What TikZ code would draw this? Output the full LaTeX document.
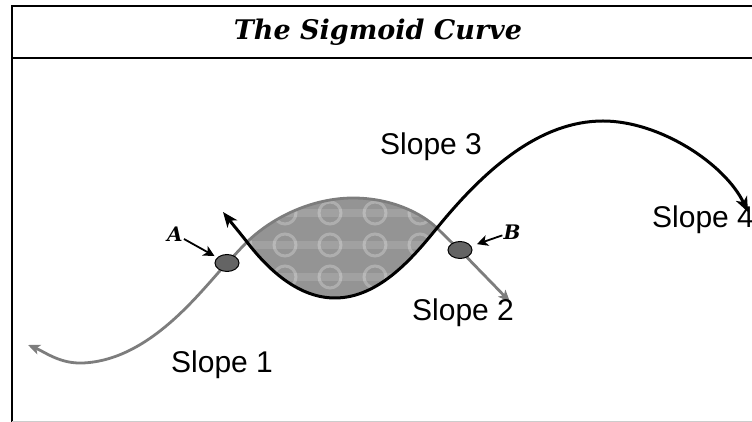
\documentclass[tikz,border=0pt]{standalone}
\usepackage{fontspec}
\usetikzlibrary{arrows.meta,shapes.geometric,positioning}
\newfontfamily\titlefont{DejaVu Serif}
\newfontfamily\slopefont{Liberation Sans}
\definecolor{curvegray}{RGB}{125,125,125}
\definecolor{shadegray}{RGB}{148,148,148}
\definecolor{dotgray}{RGB}{100,100,100}
\newcommand{\lenspath}{(left) .. controls (275,207) and (315,224) .. (top) .. controls (390,224) and (420,210) .. (right) .. controls (415,167) and (380,124) .. (bottom) .. controls (300,124) and (270,150) .. (left) -- cycle}

\begin{document}
\begin{tikzpicture}[x=1pt, y=1pt,
    slopelabel/.style={font=\slopefont\fontsize{30}{36}\selectfont, anchor=base west, inner sep=0pt},
    pointlabel/.style={font=\titlefont\bfseries\itshape\fontsize{20}{24}\selectfont, inner sep=1pt},
    marker/.style={ellipse, draw, fill=dotgray, line width=1pt, minimum width=24pt, minimum height=17pt, inner sep=0pt},
    graycurve/.style={draw=curvegray, line width=2.8pt},
    blackcurve/.style={draw=black, line width=3pt},
    pointer/.style={line width=1.8pt, -{Stealth[length=11pt,width=11pt,inset=3pt]}}]
    \useasboundingbox (0,0) rectangle (752,422);

    % Marco
    \draw[line width=2.5pt] (12,0) -- (12,416) -- (752,416);
    \draw[line width=2pt] (12,364) -- (752,364);
    \draw[gray!40, line width=1pt] (12,0.5) -- (752,0.5);
    \node[font=\titlefont\bfseries\itshape\fontsize{27}{32}\selectfont] (title) at (378,390) {The Sigmoid Curve};

    % Puntos
    \coordinate (ptA) at (227,159);
    \coordinate (ptB) at (460,172);
    \coordinate (tip1) at (28,77);
    \coordinate (low1) at (83,59);
    \coordinate (left) at (247,180);
    \coordinate (top) at (353,224);
    \coordinate (right) at (437,194);
    \coordinate (tip2) at (510,120);
    \coordinate (tip3) at (223,210);
    \coordinate (bottom) at (335,124);
    \coordinate (peak) at (603,301);
    \coordinate (tip4) at (748,210);

    % Zona sombreada
    \fill[shadegray] \lenspath;
    \begin{scope}
        \clip \lenspath;
        \foreach \cy in {145,177,209} {
            \fill[white, opacity=0.12] (230,\cy-4) rectangle (445,\cy+4);
            \foreach \cx in {240,285,330,375,420}
                \draw[white, opacity=0.25, line width=3pt] (\cx,\cy) circle (11);
        }
    \end{scope}

    % Curva gris
    \draw[graycurve, -{Stealth[length=12pt,width=10pt,inset=3pt]}] (ptA) .. controls (200,130) and (150,62) .. (low1) .. controls (60,58) and (45,70) .. (tip1);
    \draw[graycurve] (ptA) .. controls (234,166) and (240,173) .. (left) .. controls (275,207) and (315,224) .. (top) .. controls (390,224) and (420,210) .. (right) .. controls (445,186) and (452,179) .. (ptB);
    \draw[graycurve, -{Stealth[length=12pt,width=10pt,inset=3pt]}] (ptB) .. controls (477,154) and (494,137) .. (tip2);

    % Curva negra
    \draw[blackcurve, {Stealth[length=15pt,width=12pt,inset=4pt]}-{Stealth[length=15pt,width=12pt,inset=4pt]}] (tip3) .. controls (230,201) and (240,189) .. (left) .. controls (270,150) and (300,124) .. (bottom) .. controls (380,124) and (415,167) .. (right) .. controls (485,253) and (540,301) .. (peak) .. controls (660,301) and (725,258) .. (tip4);

    % Marcadores
    \node[marker] (a) at (ptA) {};
    \node[marker] (b) at (ptB) {};
    \node[pointlabel] (labA) at (175,188) {A};
    \node[pointlabel] (labB) at (512,190) {B};
    \draw[pointer, shorten >=3pt] (labA) -- (a);
    \draw[pointer, shorten >=6pt] (labB) -- (b);

    % Etiquetas
    \node[slopelabel] (s1) at (171,49) {Slope 1};
    \node[slopelabel] (s2) at (412,101) {Slope 2};
    \node[slopelabel] (s3) at (380,267) {Slope 3};
    \node[slopelabel] (s4) at (652,194) {Slope 4};
\end{tikzpicture}
\end{document}
